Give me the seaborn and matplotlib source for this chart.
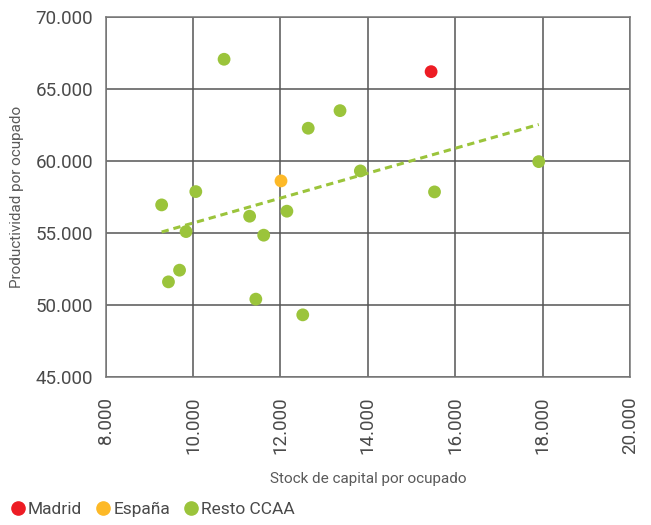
import pandas as pd
import matplotlib
matplotlib.use("Agg")
import matplotlib.pyplot as plt
import matplotlib.ticker as mticker
import seaborn as sns

# Stock de capital por ocupado (x) y productividad por ocupado (y)
capital = [15448, 12012,
           10709, 13363, 12635, 13829, 17912, 15526, 10062, 9280,
           11294, 12147, 9839, 11616, 9690, 9436, 11436, 12510]
productividad = [66236, 58646,
                 67097, 63528, 62306, 59340, 59986, 57882, 57903, 56979,
                 56194, 56542, 55125, 54875, 52444, 51632, 50431, 49340]
grupo = ["Madrid", "España"] + ["Resto CCAA"] * 16

colores = {"Madrid": "#ED1C24", "España": "#FDB927", "Resto CCAA": "#9BC43B"}
texto = "#4a4a4a"

df = pd.DataFrame({"capital": capital, "productividad": productividad, "grupo": grupo})

sns.set_style("white")
plt.rcParams["font.family"] = ["Roboto", "DejaVu Sans"]

fig, ax = plt.subplots(figsize=(6.51, 5.25), dpi=100)
fig.subplots_adjust(left=0.1624, right=0.9677, top=0.9667, bottom=0.2813)

# linea de tendencia sobre todos los puntos
sns.regplot(data=df, x="capital", y="productividad", scatter=False, ci=None,
            truncate=True, ax=ax,
            line_kws={"color": colores["Resto CCAA"], "lw": 2.2, "ls": (0, (2.4, 1.6))})

sns.scatterplot(data=df, x="capital", y="productividad", hue="grupo",
                palette=colores, s=85, edgecolor="none", ax=ax, legend=False, zorder=3)

ax.set_xlim(8000, 20000)
ax.set_ylim(45000, 70000)
ax.set_xticks(range(8000, 20001, 2000))
ax.set_yticks(range(45000, 70001, 5000))
fmt = mticker.FuncFormatter(lambda v, p: f"{int(v):,}".replace(",", "."))
ax.xaxis.set_major_formatter(fmt)
ax.yaxis.set_major_formatter(fmt)

ax.grid(True, color="#555555", lw=1.1)
for s in ax.spines.values():
    s.set_color("#777777")
    s.set_linewidth(1.1)

ax.tick_params(axis="x", labelrotation=90, labelsize=13.5, colors=texto, pad=14, length=0)
ax.tick_params(axis="y", labelsize=13.5, colors=texto, pad=9, length=0)

ax.set_xlabel("Stock de capital por ocupado", fontsize=11, color="#5a5a5a", labelpad=13)
ax.set_ylabel("Productividad por ocupado", fontsize=11, color="#5a5a5a", labelpad=8)

handles = [plt.Line2D([], [], marker="o", ls="", color=colores[k], markersize=9.5)
           for k in colores]
fig.legend(handles, list(colores), loc="lower left", bbox_to_anchor=(-0.013, -0.014),
           ncol=3, frameon=False, handletextpad=0.0, columnspacing=0.6,
           fontsize=12.5, labelcolor=texto, handlelength=1.2)

fig.savefig("out.png", dpi=100)
